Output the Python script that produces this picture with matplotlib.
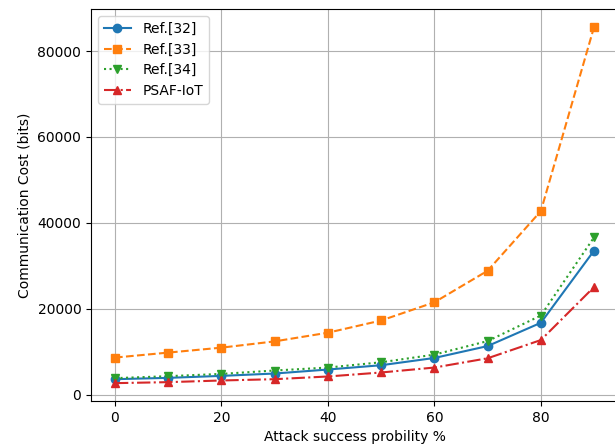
import numpy as np
from matplotlib import pyplot as plt

prob = [0, 10, 20, 30, 40, 50, 60, 70, 80, 90]
ref32 = [3630, 3940, 4400, 4950, 5880, 6880, 8570, 11340, 16760, 33570]
ref33 = [8660, 9820, 10970, 12430, 14450, 17290, 21530, 28870, 42760, 85650]
ref34 = [3870, 4330, 4860, 5650, 6340, 7570, 9350, 12500, 18450, 36670]
psaf = [2710, 2940, 3330, 3630, 4260, 5190, 6340, 8500, 12740, 25100]

fig, ax = plt.subplots(figsize=(6.15, 4.48), dpi=100)
ax.plot(prob, ref32, 'o-', color='tab:blue', label='Ref.[32]')
ax.plot(prob, ref33, 's--', color='tab:orange', label='Ref.[33]')
ax.plot(prob, ref34, 'v:', color='tab:green', label='Ref.[34]')
ax.plot(prob, psaf, '^-.', color='tab:red', label='PSAF-IoT')

ax.set_xlabel('Attack success probility %')
ax.set_ylabel('Communication Cost (bits)')
ax.grid(True)
ax.legend(loc='upper left')
# the original looks cropped on the right, so the axes run a bit past the edge
fig.subplots_adjust(left=0.148, right=1.005, top=0.98, bottom=0.105)
plt.savefig('out.png')
